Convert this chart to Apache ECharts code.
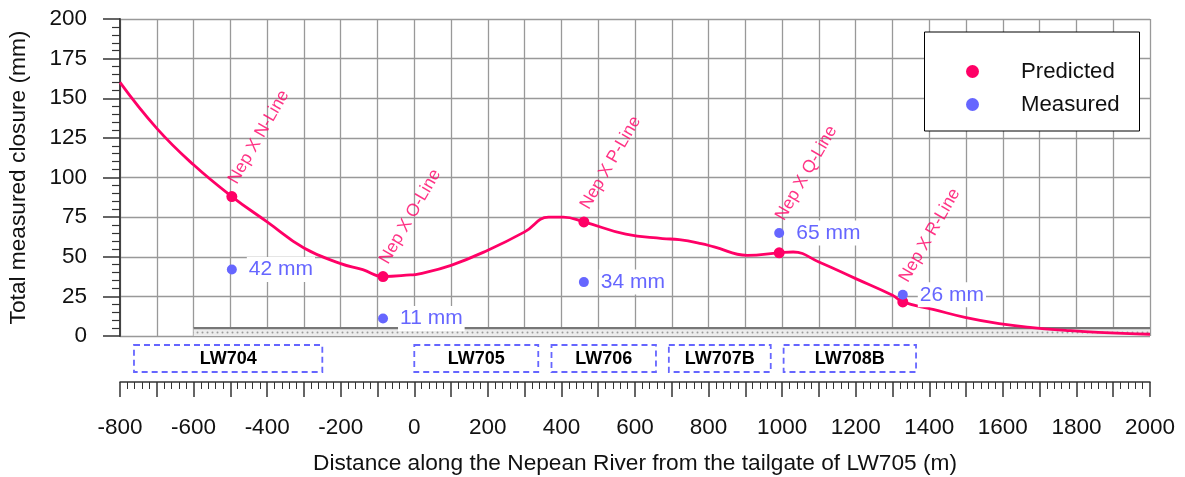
<!DOCTYPE html>
<html>
<head>
<meta charset="utf-8">
<script src="https://cdn.jsdelivr.net/npm/echarts@6/dist/echarts.min.js"></script>
<style>
  html, body { margin: 0; padding: 0; background: #fff; }
  #chart { width: 1185px; height: 477px; }
</style>
</head>
<body>
<div id="chart"></div>
<script>
// Predicted closure profile along the river: distance (m) and closure (mm)
const profileX = [-800, -700, -600, -496, -400, -300, -200, -140, -85, -10, 10, 100, 200, 300, 365, 405, 461, 575, 675, 720, 780, 815, 905, 992, 1030, 1100, 1200, 1300, 1328, 1410, 1500, 1590, 1680, 1770, 1860, 2000];
const profileY = [160, 131, 108, 88, 72, 55.5, 45.7, 41.9, 37.5, 38.5, 39, 44.6, 54.1, 65.7, 75, 75, 72, 64.2, 61.5, 60.8, 58.3, 56.2, 50.9, 52.5, 53, 46.7, 36.2, 25.7, 21.5, 16.8, 11.6, 7.8, 5.3, 3.6, 2.3, 1.1];

// Monitoring lines crossing the river
const siteNames = ['Nep X N-Line', 'Nep X O-Line', 'Nep X P-Line', 'Nep X Q-Line', 'Nep X R-Line'];
const siteX = [-496, -85, 461, 992, 1328];
const predictedAtSite = [88, 37.5, 72, 52.5, 21.5];
const measuredAtSite = [42, 11, 34, 65, 26];

// Longwall panels (start / end along the river, m)
const panelNames = ['LW704', 'LW705', 'LW706', 'LW707B', 'LW708B'];
const panelStart = [-762, 0, 373, 692, 1004];
const panelEnd = [-250, 337, 657, 969, 1364];

// River bed band: extent (m) and height (mm)
const bedFrom = -600;
const bedTo = 2000;
const bedTop = 5;

const FONT = '"Liberation Sans", Arial, sans-serif';
const PINK = '#ff0066';
const BLUE = '#6666ff';

function dotPattern() {
  const c = document.createElement('canvas');
  c.width = 5; c.height = 7;
  const g = c.getContext('2d');
  g.fillStyle = '#ececec';
  g.fillRect(0, 0, 5, 7);
  g.fillStyle = '#9a9a9a';
  g.beginPath();
  g.arc(2.5, 3.5, 1, 0, Math.PI * 2);
  g.fill();
  return c;
}
const bedPattern = { image: dotPattern(), repeat: 'repeat' };

// Site-name labels sit above the higher of the two readings at each line
const labelAnchor = siteX.map((x, i) => [x, Math.max(predictedAtSite[i], measuredAtSite[i])]);

const chart = echarts.init(document.getElementById('chart'), null, { renderer: 'canvas' });

const option = {
  animation: false,
  textStyle: { fontFamily: FONT },
  grid: { left: 120, right: 35, top: 19, bottom: 141, containLabel: false, outerBoundsMode: 'none' },
  xAxis: {
    type: 'value', min: -800, max: 2000, interval: 100, offset: 46,
    axisLine: { show: true, onZero: false, lineStyle: { color: '#333', width: 1.5 } },
    axisTick: { show: true, length: 15, lineStyle: { color: '#333', width: 1.5 } },
    minorTick: { show: true, splitNumber: 5, length: 7, lineStyle: { color: '#333', width: 1 } },
    axisLabel: {
      formatter: v => (v % 200 === 0 ? String(v) : ''),
      margin: 34, fontSize: 22.5, color: '#111', fontFamily: FONT
    },
    splitLine: { show: true, lineStyle: { color: '#999', width: 1.3 } },
    name: 'Distance along the Nepean River from the tailgate of LW705 (m)',
    nameLocation: 'middle', nameGap: 70,
    nameTextStyle: { fontSize: 22.7, color: '#111', fontFamily: FONT }
  },
  yAxis: {
    type: 'value', min: 0, max: 200, interval: 25,
    axisLine: { show: true, onZero: false, lineStyle: { color: '#444', width: 2 } },
    axisTick: { show: true, length: 17, lineStyle: { color: '#333', width: 1.5 } },
    minorTick: { show: true, splitNumber: 5, length: 8, lineStyle: { color: '#333', width: 1.2 } },
    axisLabel: { margin: 33, fontSize: 22.5, color: '#111', fontFamily: FONT },
    splitLine: { show: true, lineStyle: { color: '#999', width: 1.3 } },
    name: 'Total measured closure (mm)',
    nameLocation: 'middle', nameGap: 90,
    nameTextStyle: { fontSize: 22.7, color: '#111', fontFamily: FONT }
  },
  graphic: [{
    type: 'rect', left: 924, top: 31.5, z: 10,
    shape: { width: 215, height: 99 },
    style: { fill: '#fff', stroke: '#000', lineWidth: 1 }
  }],
  legend: {
    orient: 'vertical', left: 966, top: 60.5, padding: 0, z: 11,
    itemWidth: 13, itemHeight: 13, itemGap: 11,
    textStyle: { fontSize: 22.2, color: '#111', fontFamily: FONT, padding: [0, 0, 0, 37] },
    data: [{ name: 'Predicted', icon: 'circle' }, { name: 'Measured', icon: 'circle' }]
  },
  series: [
    {
      type: 'custom', name: 'bed', z: 1, silent: true,
      data: [[bedFrom, bedTo, bedTop]],
      renderItem: (params, api) => {
        const p0 = api.coord([api.value(0), api.value(2)]);
        const p1 = api.coord([api.value(1), 0]);
        return {
          type: 'group', children: [
            { type: 'rect', shape: { x: p0[0], y: p0[1], width: p1[0] - p0[0], height: p1[1] - p0[1] },
              style: { fill: bedPattern } },
            { type: 'line', shape: { x1: p0[0], y1: p0[1], x2: p1[0], y2: p0[1] },
              style: { stroke: '#777', lineWidth: 2.4 } }
          ]
        };
      }
    },
    {
      type: 'custom', name: 'panels', z: 2, silent: true, clip: false,
      data: panelStart.map((s, i) => [s, panelEnd[i]]),
      renderItem: (params, api) => {
        const a = api.coord([api.value(0), 0]);
        const b = api.coord([api.value(1), 0]);
        const top = a[1] + 9;
        const h = 27;
        return {
          type: 'group', children: [
            { type: 'rect', shape: { x: a[0], y: top, width: b[0] - a[0], height: h },
              style: { fill: 'none', stroke: BLUE, lineWidth: 1.8, lineDash: [6, 4] } },
            { type: 'text', style: {
                text: panelNames[params.dataIndex], x: (a[0] + b[0]) / 2, y: top + h / 2 + 1,
                align: 'center', verticalAlign: 'middle',
                fontSize: 18, fontWeight: 'bold', fontFamily: FONT, fill: '#000' } }
          ]
        };
      }
    },
    {
      type: 'line', name: 'Predicted', z: 3, smooth: 0.45, showSymbol: false, silent: true,
      data: profileX.map((x, i) => [x, profileY[i]]),
      lineStyle: { color: PINK, width: 2.8 },
      itemStyle: { color: PINK }
    },
    {
      type: 'scatter', name: 'sites', z: 3, symbolSize: 11, silent: true,
      data: labelAnchor,
      itemStyle: { color: 'transparent' },
      label: {
        show: true, formatter: p => siteNames[p.dataIndex],
        position: [14, -4], rotate: 60, align: 'left', verticalAlign: 'bottom',
        color: PINK, fontSize: 17.5, fontFamily: FONT
      }
    },
    {
      type: 'scatter', name: 'Predicted', z: 4, symbolSize: 11,
      data: siteX.map((x, i) => [x, predictedAtSite[i]]),
      itemStyle: { color: PINK, opacity: 1 }
    },
    {
      type: 'scatter', name: 'Measured', z: 5, symbolSize: 10,
      data: siteX.map((x, i) => [x, measuredAtSite[i]]),
      itemStyle: { color: BLUE, opacity: 1 },
      label: {
        show: true, position: 'right', distance: 10,
        formatter: p => p.value[1] + ' mm',
        color: BLUE, fontSize: 21, fontFamily: FONT,
        backgroundColor: '#fff', padding: [2, 2]
      }
    }
  ]
};

chart.setOption(option);
</script>
</body>
</html>
